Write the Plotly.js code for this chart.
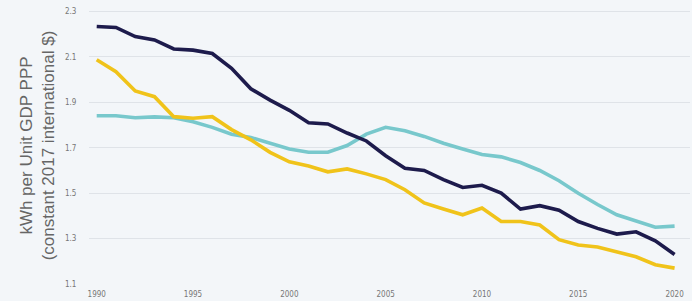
<!DOCTYPE html>
<html><head><meta charset="utf-8">
<script src="https://cdn.plot.ly/plotly-3.0.1.min.js"></script>
<style>html,body{margin:0;padding:0;background:#f3f6f9;}#c{width:692px;height:301px;}</style>
</head><body><div id="c"></div>
<script>
const years = [1990,1991,1992,1993,1994,1995,1996,1997,1998,1999,2000,2001,2002,2003,2004,2005,2006,2007,2008,2009,2010,2011,2012,2013,2014,2015,2016,2017,2018,2019,2020];
const navySeries = [2.234,2.23,2.19,2.175,2.135,2.13,2.115,2.05,1.96,1.91,1.865,1.81,1.805,1.765,1.73,1.665,1.61,1.60,1.56,1.525,1.535,1.50,1.43,1.445,1.425,1.375,1.345,1.32,1.33,1.29,1.23];
const cyanSeries = [1.841,1.841,1.832,1.836,1.832,1.815,1.79,1.76,1.745,1.72,1.695,1.68,1.68,1.71,1.76,1.79,1.775,1.75,1.72,1.695,1.67,1.66,1.635,1.60,1.555,1.50,1.45,1.405,1.378,1.35,1.355];
const yellowSeries = [2.088,2.035,1.95,1.925,1.837,1.83,1.837,1.78,1.735,1.68,1.638,1.62,1.594,1.607,1.585,1.56,1.515,1.457,1.43,1.405,1.435,1.375,1.375,1.36,1.295,1.272,1.263,1.24,1.22,1.185,1.17];
const yTicks = [1.1,1.3,1.5,1.7,1.9,2.1,2.3];
const xTicks = [1990,1995,2000,2005,2010,2015,2020];

const mk = (y,color)=>({x:years,y:y,type:'scatter',mode:'lines',line:{color:color,width:3.6},hoverinfo:'skip'});
const data = [mk(cyanSeries,'#78c8cc'), mk(yellowSeries,'#f0c31a'), mk(navySeries,'#1d1b4c')];
const layout = {
  width:692,height:301,
  paper_bgcolor:'#f3f6f9',plot_bgcolor:'#f3f6f9',
  margin:{l:89,r:2,t:7,b:17},
  showlegend:false,
  xaxis:{range:[1989.6,2020.8],tickvals:xTicks,ticktext:xTicks.map(String),showgrid:false,zeroline:false,showline:false,
    ticks:'outside',ticklen:2,tickcolor:'rgba(0,0,0,0)',tickfont:{family:'Liberation Sans Narrow, DejaVu Sans Condensed, Arial',size:8,color:'#777'}},
  yaxis:{range:[1.1,2.32],tickvals:yTicks,ticktext:yTicks.map(v=>v.toFixed(1)),showgrid:true,gridcolor:'#dfe3e8',gridwidth:1,zeroline:false,showline:false,
    ticks:'outside',ticklen:10,tickcolor:'rgba(0,0,0,0)',tickfont:{family:'Liberation Sans Narrow, DejaVu Sans Condensed, Arial',size:8,color:'#777'},
    title:{text:'kWh per Unit GDP PPP<br>(constant 2017 international $)',standoff:5,font:{family:'Liberation Sans, Arial',size:17,color:'#666666'}}}
};
Plotly.newPlot('c',data,layout,{staticPlot:true,displayModeBar:false});
</script></body></html>
